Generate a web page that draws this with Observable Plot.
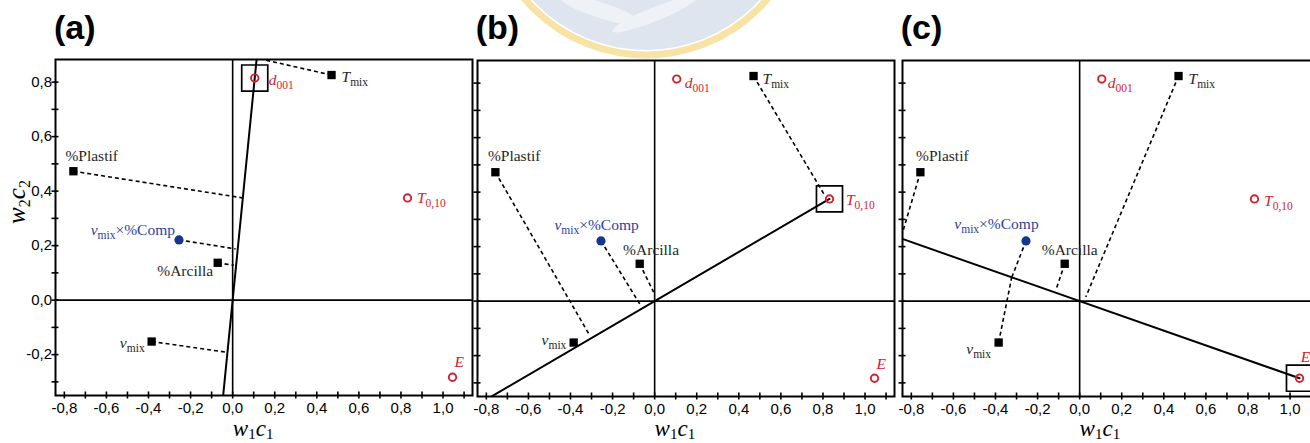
<!DOCTYPE html>
<html>
<head>
<meta charset="utf-8">
<script src="https://cdn.jsdelivr.net/npm/d3@7"></script>
<script src="https://cdn.jsdelivr.net/npm/@observablehq/plot@0.6"></script>
<style>
  html, body { margin: 0; padding: 0; background: #fff; overflow: hidden; }
  #chart { position: relative; width: 1310px; height: 443px; overflow: hidden; }
  #chart > svg { position: absolute; }
</style>
</head>
<body>
<div id="chart"></div>
<script>
// PLS loadings (w1c1, w2c2) of predictors and responses
const variables = ["d001", "Tmix", "%Plastif", "T0,10", "vmix×%Comp", "%Arcilla", "vmix", "E"];
const w1c1 = [0.105, 0.470, -0.757, 0.831, -0.255, -0.071, -0.385, 1.045];
const w2c2 = [0.815, 0.826, 0.473, 0.375, 0.221, 0.137, -0.152, -0.283];
const roles = ["response", "predictor", "predictor", "response", "interaction", "predictor", "predictor", "response"];

// one panel per response
const panelTitles = ["(a)", "(b)", "(c)"];
const panelResponses = ["d001", "T0,10", "E"];
// extent of each response axis, as multiples of the response loading
const axisFrom = [-0.5, -1.2, -1.2];
const axisTo = [1.1, 1.0, 1.0];

// ends of the projections of the predictors on each response axis
const projA_var = ["Tmix", "%Plastif", "vmix×%Comp", "%Arcilla", "vmix"];
const projA_x = [0.115, 0.049, 0.014, 0.006, -0.030];
const projA_y = [0.888, 0.375, 0.188, 0.128, -0.191];
const projB_var = ["Tmix", "%Plastif", "vmix×%Comp", "%Arcilla"];
const projB_x = [0.810, -0.310, -0.071, -0.005];
const projB_y = [0.386, -0.124, -0.010, 0.033];
const projC_var = ["%Plastif", "vmix×%Comp", "vmix", "%Arcilla", "Tmix"];
const projC_x = [-0.850, -0.323, -0.323, -0.111, 0.029];
const projC_y = [0.230, 0.087, 0.087, 0.045, 0.015];

// axis ticks
const xTicks = d3.range(-8, 12).map(i => i / 10);
const xTickLabels = d3.range(-8, 11, 2).map(i => i / 10);
const yTicks = d3.range(-3, 9).map(i => i / 10);
const yTickLabels = d3.range(-2, 9, 2).map(i => i / 10);

// rich text for the labels: [text, style]
const labelParts = {
  "d001": [["d", "i"], ["001", "sub"]],
  "Tmix": [["T", "i"], ["mix", "sub"]],
  "%Plastif": [["%Plastif", ""]],
  "T0,10": [["T", "i"], ["0,10", "sub"]],
  "vmix×%Comp": [["v", "i"], ["mix", "sub"], ["×%Comp", ""]],
  "%Arcilla": [["%Arcilla", ""]],
  "vmix": [["v", "i"], ["mix", "sub"]],
  "E": [["E", "i"]]
};

// label placement per panel: [textAnchor, dx, baseline offset]
const labelPlacement = [
  {
    "d001": ["start", 14, 7], "Tmix": ["start", 10, 7], "%Plastif": ["start", -8, -10],
    "T0,10": ["start", 9.5, 5.5], "vmix×%Comp": ["end", -4, -5], "%Arcilla": ["end", -4.5, 13],
    "vmix": ["end", -7, 6], "E": ["start", 2, -10]
  },
  {
    "d001": ["start", 8, 8.5], "Tmix": ["start", 9, 8.3], "%Plastif": ["start", -7.5, -11.5],
    "T0,10": ["start", 16.5, 5.6], "vmix×%Comp": ["middle", -4.4, -10.5], "%Arcilla": ["start", -16.6, -9],
    "vmix": ["end", -7.3, 2], "E": ["start", 2, -9.3]
  },
  {
    "d001": ["start", 6, 8.5], "Tmix": ["start", 10, 8.3], "%Plastif": ["start", -4.3, -11.5],
    "T0,10": ["start", 9.6, 6.7], "vmix×%Comp": ["middle", -29.5, -11.5], "%Arcilla": ["start", -23, -9],
    "vmix": ["end", -7.6, 11.7], "E": ["start", 1.3, -16]
  }
];

// page layout
const frameLefts = [55, 476.7, 901.7];
const frameTops = [58.5, 59.8, 59.8];
const frameW = 417, frameH = 336;
const mLeft = 55, mRight = 12, mTop = 10, mBottom = 50;
const red = "#d4212f", blue = "#16368e", blueText = "#2b3ea0", ink = "#262626";
const serif = '"Liberation Serif", "Times New Roman", serif';
const tickFont = '"Liberation Sans Narrow", "Arial Narrow", "Liberation Sans", Arial, sans-serif';

const points = variables.map((v, i) => ({name: v, x: w1c1[i], y: w2c2[i], role: roles[i]}));
const byName = Object.fromEntries(points.map(p => [p.name, p]));
const projections = [
  projA_var.map((v, i) => ({from: byName[v], x: projA_x[i], y: projA_y[i]})),
  projB_var.map((v, i) => ({from: byName[v], x: projB_x[i], y: projB_y[i]})),
  projC_var.map((v, i) => ({from: byName[v], x: projC_x[i], y: projC_y[i]}))
];
const comma = d => d.toFixed(1).replace(".", ",");

const chart = d3.select("#chart");

// faint seal behind the panels
const bg = chart.append("svg").attr("width", 1310).attr("height", 443).style("left", 0).style("top", 0);
bg.append("circle").attr("cx", 646).attr("cy", -104).attr("r", 159)
  .attr("fill", "none").attr("stroke", "#f8e3a6").attr("stroke-width", 7);
bg.append("circle").attr("cx", 646).attr("cy", -104).attr("r", 154).attr("fill", "#dfe5ee");
bg.append("ellipse").attr("cx", 600).attr("cy", 10).attr("rx", 42).attr("ry", 8)
  .attr("transform", "rotate(18 600 10)").attr("fill", "#eef1f6");
bg.append("ellipse").attr("cx", 655).attr("cy", 14).attr("rx", 46).attr("ry", 7)
  .attr("transform", "rotate(-22 655 14)").attr("fill", "#eef1f6");

function richLabels(svg) {
  d3.select(svg).selectAll("g[aria-label='text'] text").each(function () {
    const parts = labelParts[this.textContent];
    if (!parts) return;
    const t = d3.select(this);
    t.text(null);
    let shifted = 0;
    for (const [s, style] of parts) {
      const ts = t.append("tspan").text(s);
      if (style === "i") ts.attr("font-style", "italic");
      if (style === "sub") {
        ts.attr("font-size", "11.5px").attr("dy", 4);
        shifted = 4;
      } else if (shifted) {
        ts.attr("dy", -shifted);
        shifted = 0;
      }
    }
  });
}

panelTitles.forEach((title, k) => {
  const resp = byName[panelResponses[k]];
  const axisLine = [axisFrom[k], axisTo[k]].map(t => ({x: t * resp.x, y: t * resp.y}));
  const place = labelPlacement[k];

  const labelMarks = points.map(p => {
    const [anchor, dx, dy] = place[p.name];
    return Plot.text([p], {
      x: "x", y: "y", text: "name", textAnchor: anchor, lineAnchor: "bottom", dx, dy,
      fontFamily: serif, fontSize: 15.5,
      fill: p.role === "response" ? red : p.role === "interaction" ? blueText : ink
    });
  });

  const svg = Plot.plot({
    width: mLeft + frameW + mRight,
    height: mTop + frameH + mBottom,
    marginLeft: mLeft, marginRight: mRight, marginTop: mTop, marginBottom: mBottom,
    x: {domain: [-0.842, 1.14]},
    y: {domain: [-0.35, 0.883]},
    style: {background: "transparent", overflow: "visible", color: "black", fontFamily: tickFont, fontSize: "15px"},
    marks: [
      Plot.ruleX([0], {strokeWidth: 1.6}),
      Plot.ruleY([0], {strokeWidth: 1.6}),
      Plot.line(axisLine, {x: "x", y: "y", strokeWidth: 2, clip: true}),
      Plot.link(projections[k], {
        x1: d => d.from.x, y1: d => d.from.y, x2: "x", y2: "y",
        strokeWidth: 1.6, strokeDasharray: "4,3", clip: true
      }),
      Plot.dot([resp], {x: "x", y: "y", symbol: "square", r: 14.7, stroke: "black", strokeWidth: 1.7, fill: "none"}),
      Plot.dot(points.filter(p => p.role === "predictor"), {x: "x", y: "y", symbol: "square", r: 4.7, fill: "black"}),
      Plot.dot(points.filter(p => p.role === "interaction"), {x: "x", y: "y", r: 4.6, fill: blue}),
      Plot.dot(points.filter(p => p.role === "response"), {x: "x", y: "y", r: 3.7, stroke: red, strokeWidth: 1.9, fill: "none"}),
      ...labelMarks,
      Plot.frame({strokeWidth: 2}),
      Plot.axisX({ticks: xTicks, tickSize: 7, dy: -3.5, strokeWidth: 1.6, tickFormat: () => "", label: null}),
      Plot.axisX({ticks: xTickLabels, tickSize: 0, tickPadding: 7, tickFormat: comma, label: null}),
      Plot.axisY({ticks: yTicks, tickSize: 7, dx: 3.5, strokeWidth: 1.6, tickFormat: () => "", label: null}),
      k === 0 ? Plot.axisY({ticks: yTickLabels, tickSize: 0, tickPadding: 3.5, tickFormat: comma, label: null}) : null
    ]
  });
  richLabels(svg);
  d3.select(svg).style("left", (frameLefts[k] - mLeft) + "px").style("top", (frameTops[k] - mTop) + "px");
  chart.node().appendChild(svg);
});

// panel titles and axis titles
const fg = chart.append("svg").attr("width", 1310).attr("height", 443).style("left", 0).style("top", 0)
  .style("pointer-events", "none");
panelTitles.forEach((title, k) => {
  fg.append("text").attr("x", frameLefts[k] - 1).attr("y", 39)
    .attr("font-family", '"Liberation Sans", Arial, sans-serif').attr("font-weight", "bold")
    .attr("font-size", 34).text(title);
  const originX = frameLefts[k] + 0.842 * frameW / 1.982;
  const xl = fg.append("text").attr("x", originX + 21).attr("y", 436).attr("text-anchor", "middle")
    .attr("font-family", serif).attr("font-size", 23);
  xl.append("tspan").attr("font-style", "italic").text("w");
  xl.append("tspan").attr("font-size", 15).attr("dy", 2.5).text("1");
  xl.append("tspan").attr("font-style", "italic").attr("dy", -2.5).text("c");
  xl.append("tspan").attr("font-size", 15).attr("dy", 2.5).text("1");
});
const yl = fg.append("text").attr("transform", "translate(25,202) rotate(-90)").attr("text-anchor", "middle")
  .attr("font-family", serif).attr("font-size", 25);
yl.append("tspan").attr("font-style", "italic").text("w");
yl.append("tspan").attr("font-size", 16).attr("dy", 5).text("2");
yl.append("tspan").attr("font-style", "italic").attr("dy", -5).text("c");
yl.append("tspan").attr("font-size", 16).attr("dy", 5).text("2");
</script>
</body>
</html>
